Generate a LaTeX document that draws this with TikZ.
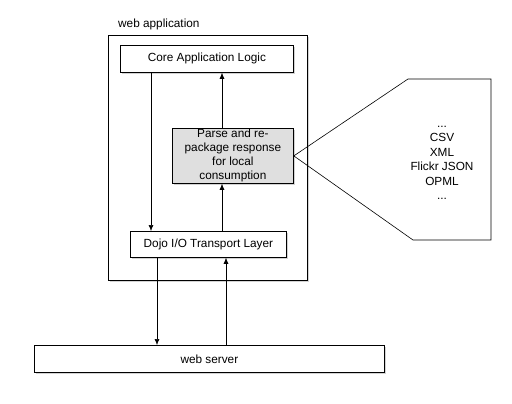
\documentclass[tikz,border=0pt]{standalone}
\usepackage{fontspec}
\setmainfont{Liberation Sans}
\usetikzlibrary{arrows.meta,shadows}
\begin{document}
\begin{tikzpicture}[x=1pt,y=-1pt,
  font=\fontsize{11.8}{14}\selectfont,
  box/.style={draw=black, line width=0.8pt, fill=white, drop shadow={shadow xshift=1.5pt, shadow yshift=-2pt, opacity=0.35}},
  arr/.style={-{Latex[length=6pt,width=5pt]}, line width=0.6pt},
  ]
\useasboundingbox (0,0) rectangle (512,404);
\node[anchor=base west, inner sep=0pt] (lbl) at (118,28) {web application};
\draw[box] (108,35) rectangle (307,280);
\node[box, minimum width=173pt, minimum height=27pt, anchor=north west, inner sep=0pt] (core) at (120,45) {Core Application Logic};
\node[box, fill=gray!25, minimum width=121pt, minimum height=55pt, anchor=north west, inner sep=0pt, align=center] (parse) at (172,128) {Parse and re-\\package response\\for local\\consumption};
\node[box, minimum width=156pt, minimum height=26pt, anchor=north west, inner sep=0pt] (dojo) at (130,231) {Dojo I/O Transport Layer};
\node[box, minimum width=350pt, minimum height=27pt, anchor=north west, inner sep=0pt] (server) at (34,345) {web server};
% callout
\coordinate (c1) at (408,79);
\coordinate (c2) at (491,79);
\coordinate (c3) at (491,240);
\coordinate (c4) at (413,240);
\draw[line width=0.6pt] (parse.east) -- (c1) -- (c2) -- (c3) -- (c4) -- cycle;
\node[align=center, inner sep=0pt, font=\fontsize{11.8}{14.5}\selectfont] (formats) at (442,163) {...\\CSV\\XML\\Flickr JSON\\OPML\\...};
% arrows
\draw[arr] (core.south -| 151,0) -- (dojo.north -| 151,0);
\draw[arr] (parse.north -| 222,0) -- (core.south -| 222,0);
\draw[arr] (dojo.north -| 222,0) -- (parse.south -| 222,0);
\draw[arr] (dojo.south -| 157,0) -- (server.north -| 157,0);
\draw[arr] (server.north -| 226,0) -- (dojo.south -| 226,0);
\end{tikzpicture}
\end{document}
